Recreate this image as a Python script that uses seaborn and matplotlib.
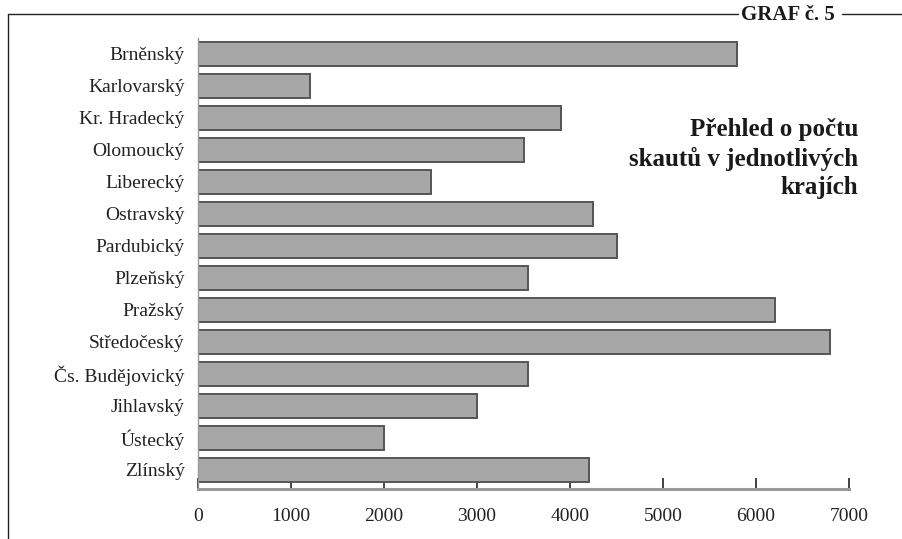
import pandas as pd
import seaborn as sns
import matplotlib.pyplot as plt
from matplotlib.lines import Line2D

# pocty skautu podle kraju
kraje = ['Brněnský', 'Karlovarský', 'Kr. Hradecký', 'Olomoucký', 'Liberecký',
         'Ostravský', 'Pardubický', 'Plzeňský', 'Pražský', 'Středočeský',
         'Čs. Budějovický', 'Jihlavský', 'Ústecký', 'Zlínský']
pocty = [5800, 1200, 3900, 3500, 2500, 4250, 4500, 3550, 6200, 6800,
         3550, 3000, 2000, 4200]
x_ticks = [0, 1000, 2000, 3000, 4000, 5000, 6000, 7000]

sns.set_style('white')
plt.rcParams['font.family'] = ['Liberation Serif', 'DejaVu Serif']

df = pd.DataFrame({'kraj': kraje, 'pocet': pocty})

fig = plt.figure(figsize=(9.02, 5.39), dpi=100)
ax = fig.add_axes([198 / 902, 50 / 539, 651 / 902, 451 / 539])

sns.barplot(data=df, x='pocet', y='kraj', orient='h', color='#a7a7a7',
            edgecolor='#555555', linewidth=1.4, width=0.74, saturation=1, ax=ax)

ax.set_xlim(0, 7000)
ax.set_ylim(13.6, -0.5)
ax.set_xticks(x_ticks)
ax.set_xlabel('')
ax.set_ylabel('')

for s in ['top', 'right']:
    ax.spines[s].set_visible(False)
ax.spines['left'].set_color('#999999')
ax.spines['left'].set_linewidth(1)
ax.spines['bottom'].set_color('#999999')
ax.spines['bottom'].set_linewidth(2.2)

ax.tick_params(axis='x', bottom=True, direction='in', length=8, width=1.3,
               color='#333333', labelsize=14, labelcolor='#222222', pad=14)
ax.tick_params(axis='y', left=False, labelsize=14, labelcolor='#222222', pad=6)

# titulek v grafu
ax.text(1.014, 0.822, 'Přehled o počtu\nskautů v jednotlivých\nkrajích',
        transform=ax.transAxes, ha='right', va='top', fontsize=18,
        fontweight='bold', color='#1a1a1a', linespacing=1.28)

# ramecek a oznaceni grafu
fig.add_artist(Line2D([8 / 902, 738 / 902], [1 - 14 / 539, 1 - 14 / 539],
                      color='#222222', lw=1))
fig.add_artist(Line2D([842 / 902, 1.0], [1 - 14 / 539, 1 - 14 / 539],
                      color='#222222', lw=1))
fig.add_artist(Line2D([8 / 902, 8 / 902], [0, 1 - 14 / 539],
                      color='#222222', lw=1))
fig.text(788 / 902, 1 - 15 / 539, 'GRAF č. 5', ha='center', va='center',
         fontsize=15, fontweight='bold', color='#1a1a1a')

fig.savefig('out.png', dpi=100)
